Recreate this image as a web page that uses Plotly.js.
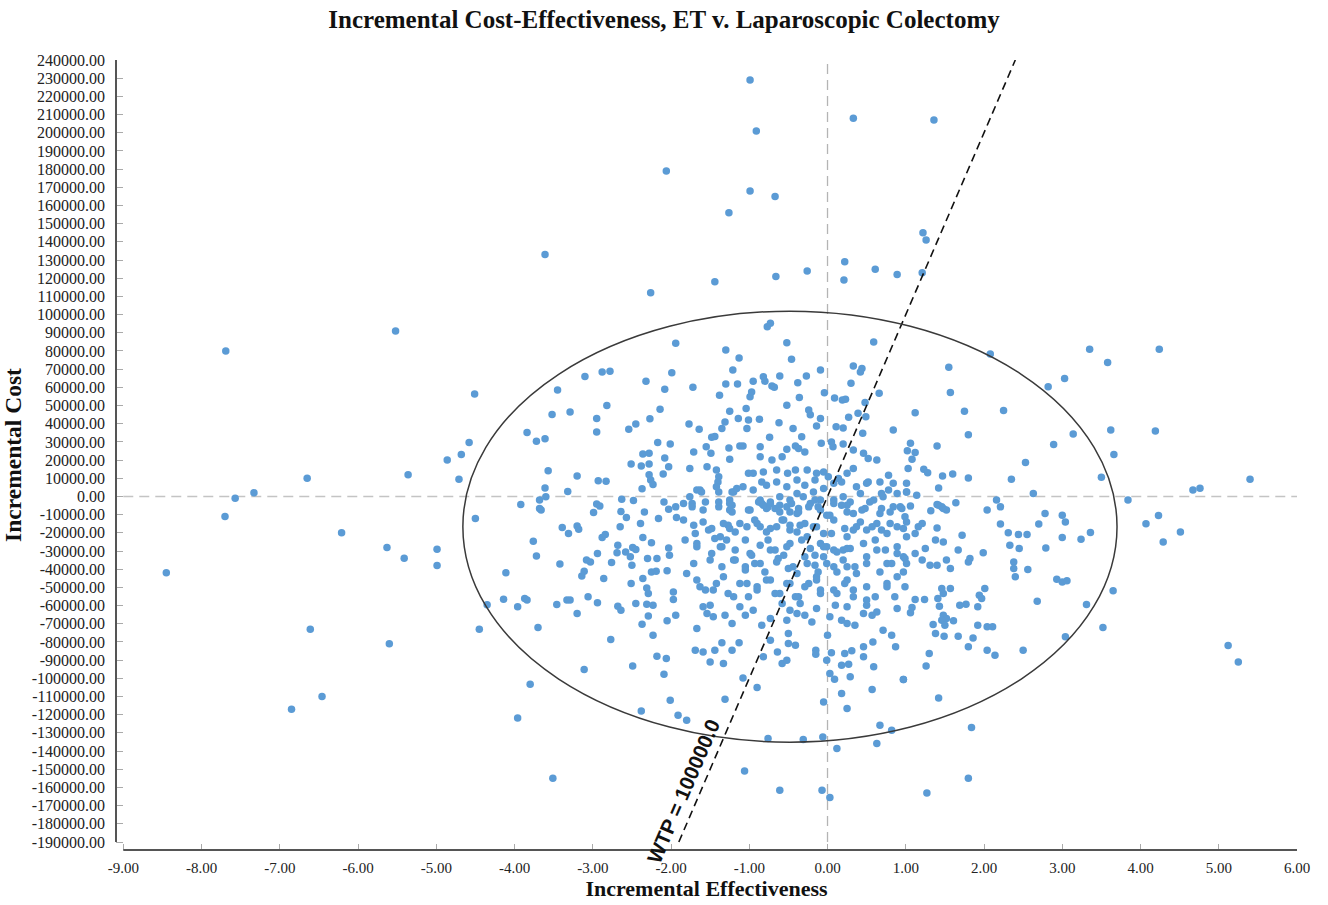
<!DOCTYPE html>
<html>
<head>
<meta charset="utf-8">
<script src="https://cdn.plot.ly/plotly-3.0.1.min.js"></script>
<style>html,body{margin:0;padding:0;background:#fff;}</style>
</head>
<body>
<div id="chart" style="width:1328px;height:905px;"></div>
<script>
// ---------- DATA (incremental effectiveness, incremental cost) ----------
const outlierPoints = [
  [-0.99,229000],[-0.91,201000],[0.33,208000],[1.36,207000],[-2.06,179000],[-0.99,168000],
  [-0.67,165000],[-1.26,156000],[1.22,145000],[1.26,141000],[-3.61,133000],[0.22,129000],
  [0.61,125000],[-0.26,124000],[-0.66,121000],[0.89,122000],[1.21,123000],[0.21,119000],
  [-1.44,118000],[-2.26,112000],[-7.69,80000],[-5.52,91000],[4.24,81000],[4.19,36000],
  [4.67,3500],[4.76,4500],[5.40,9500],[3.84,-2000],[4.07,-15000],[4.23,-10500],[4.29,-25000],
  [4.51,-19500],[5.12,-82000],[5.25,-91000],[1.80,-155000],[1.27,-163000],[-1.06,-151000],
  [-0.61,-161500],[-0.07,-161500],[0.03,-165500],[-3.51,-155000],[-8.45,-42000],[-7.70,-11000],
  [-7.57,-1000],[-7.33,2000],[-6.65,10000],[-6.21,-20000],[-5.63,-28000],[-5.41,-34000],
  [-5.36,12000],[-4.99,-29000],[-4.99,-38000],[-5.60,-81000],[-6.61,-73000],[-6.46,-110000],
  [-6.85,-117000],[-4.86,20000],[-4.71,9500]
];
const upperLeftPoints = [
  [-4.51,56300],[-3.10,66000],[-2.88,68400],[-2.78,68900],[-3.45,58500],[-2.82,50000],[-3.29,46400],
  [-3.52,45100],[-2.95,42900],[-2.95,35500],[-2.54,36900],[-2.45,39800],[-2.32,63300],[-2.08,58900],
  [-1.99,68000],[-1.94,84300],[-2.14,47900],[-2.27,42700],[-3.84,35200],[-3.72,30300],[-3.61,31700],
  [-4.58,29700],[-4.68,23100],[-2.17,29700],[-2.01,28900],[-2.36,23300],[-2.28,23800],[-2.08,21100],
  [-2.03,16300],[-2.10,12400],[-2.51,17800],[-2.38,16800],[-2.28,17900],[-2.28,11900],[-2.26,9000],
  [-2.23,6600],[-2.37,4200],[-3.57,14100],[-3.20,11200],[-2.93,8600],[-2.83,8400],[-3.61,4700],
  [-3.60,-200],[-3.32,2700],[-3.68,-2000],[-3.92,-4400],[-3.68,-6600],[-3.66,-7500],[-2.95,-4200],
  [-2.91,-5300],[-2.99,-8800],[-2.63,-1500],[-2.48,-2200],[-2.64,-8300],[-2.34,-8500],[-2.09,-3100],
  [-2.03,-7000],[-1.94,-5700],[-4.50,-12100],[-2.16,-12100],[-2.57,-11600]
];
const upperCenterPoints = [
  [-0.77,93300],[-0.73,95200],[-0.52,84500],[-1.30,80500],[-1.13,76100],[-0.46,75400],[-1.21,69500],
  [-0.95,63300],[-0.82,65800],[-0.80,63400],[-0.71,60700],[-0.68,60000],[-0.61,66200],[-0.38,62500],
  [-0.27,66200],[-0.09,69500],[-1.72,60100],[-1.38,55700],[-1.30,61800],[-1.15,61900],[-0.99,54800],
  [-0.97,57500],[-0.36,54400],[-0.52,50200],[-0.04,57000],[0.09,54200],[0.19,53000],[0.23,53500],
  [0.33,71800],[0.44,70400],[0.42,68500],[0.30,62200],[0.59,85000],[0.66,56700],[0.48,51700],
  [-1.25,46900],[-1.04,48400],[-1.77,39800],[-1.64,37000],[-1.48,32500],[-1.44,33000],[-1.35,37400],
  [-1.31,41000],[-1.14,42900],[-1.03,37400],[-1.01,42000],[-0.87,42500],[-0.62,40500],[-0.44,37400],
  [-0.24,47500],[-0.22,44900],[-0.09,42900],[-0.14,38700],[0.11,38300],[0.20,37700],[0.27,43500],
  [0.39,45700],[0.49,43800],[0.45,34700],[-1.71,24500],[-1.55,27300],[-1.49,23700],[-1.25,20400],
  [-1.26,26700],[-1.12,27800],[-1.08,27800],[-0.86,27300],[-0.74,32500],[-0.86,21800],[-0.71,20000],
  [-0.58,21800],[-0.52,25900],[-0.41,27800],[-0.37,26400],[-0.33,32800],[-0.29,24500],[-0.08,29200],
  [0.05,30000],[0.07,27300],[0.20,28800],[0.33,25500],[0.46,23700],[0.52,20900],[0.63,20000],
  [0.84,36500],[0.78,11700],[-1.76,15400],[-1.54,16300],[-1.42,14500],[-1.39,10800],[-1.40,8000],
  [-1.01,12700],[-0.95,12700],[-0.82,13500],[-0.65,14500],[-0.51,12700],[-0.41,14500],[-0.26,14500],
  [-0.14,12700],[-0.05,13500],[0.01,10800],[0.14,9900],[0.25,12700],[0.33,15400],[0.52,8000],
  [0.67,8000],[0.84,7200],[-1.63,3500],[-1.76,-200],[-1.39,2500],[-1.20,2500],[-1.08,5300],
  [-0.86,-2000],[-0.73,-3000],[-0.61,-200],[-0.48,-2000],[-0.39,1600],[-0.31,-200],[-0.18,2500],
  [-0.09,-2000],[0.08,-2000],[0.20,-200],[0.29,-3000],[0.42,1600],[0.59,-2000],[0.71,-200],
  [0.84,-5700],[-1.25,-7500],[-0.99,-7500],[-0.78,-6600],[-0.39,-9400],[-1.25,-2000],[-0.01,-10300],
  [0.33,-9400],[0.67,-9400]
];
const upperRightPoints = [
  [2.08,78300],[3.35,81000],[3.58,73700],[1.55,71000],[1.57,57200],[2.82,60300],[3.03,64900],
  [1.12,46000],[1.75,46900],[2.25,47300],[1.80,33900],[3.14,34400],[3.62,36500],[2.89,28600],
  [3.66,23100],[1.40,27800],[1.06,29200],[1.02,25100],[1.12,24200],[1.08,20500],[1.03,15400],
  [1.23,15000],[1.28,13000],[1.47,11300],[1.60,12300],[1.80,10200],[2.53,18700],[2.35,9500],
  [3.50,10600],[1.01,7200],[1.42,4700],[1.01,2500],[1.14,700],[2.63,1600],[1.64,-3500],
  [1.40,-4400],[1.46,-5700],[1.52,-7500],[2.16,-2000],[2.21,-5700],[2.04,-7500],[1.32,-7900],
  [1.06,-5300],[0.95,-6600],[2.78,-9400],[3.00,-10300]
];
const lowerLeftPoints = [
  [-3.39,-17100],[-3.31,-20400],[-3.20,-16300],[-3.18,-18000],[-3.76,-24600],[-3.72,-32800],
  [-4.11,-42000],[-4.14,-56500],[-4.35,-59600],[-4.45,-73000],[-3.96,-60700],[-3.87,-56100],
  [-3.84,-57000],[-3.70,-72000],[-3.42,-37200],[-3.46,-59400],[-3.33,-57000],[-3.29,-57000],
  [-3.20,-64400],[-3.06,-55200],[-2.94,-58500],[-3.14,-43800],[-3.11,-41100],[-3.08,-35000],
  [-3.03,-36000],[-2.94,-31400],[-2.86,-45100],[-2.88,-22600],[-2.84,-20900],[-2.68,-26800],
  [-2.69,-31000],[-2.65,-16700],[-2.76,-36300],[-2.58,-30500],[-2.52,-33200],[-2.49,-28000],
  [-2.45,-29200],[-2.50,-37800],[-2.51,-47900],[-2.36,-45100],[-2.36,-22600],[-2.39,-14900],
  [-2.25,-25500],[-2.30,-34100],[-2.18,-34100],[-2.25,-41500],[-2.19,-41100],[-2.31,-50300],
  [-2.29,-53400],[-2.03,-28300],[-2.02,-32300],[-2.05,-40900],[-1.97,-52500],[-1.97,-56700],
  [-2.45,-58900],[-2.31,-59200],[-2.23,-59800],[-2.68,-60300],[-2.64,-62500],[-2.37,-70200],
  [-2.29,-65700],[-2.05,-68400],[-1.94,-65300],[-2.23,-76300],[-2.77,-78700],[-2.18,-87800],
  [-2.06,-89100],[-2.09,-97700],[-2.49,-93200],[-3.11,-95200],[-3.80,-103200],[-3.96,-121800],
  [-2.01,-112000],[-2.38,-117900],[-1.91,-120300],[-1.93,-11600]
];
const lowerCenterPoints = [
  [-1.84,-3900],[-1.73,-3900],[-1.59,-7500],[-1.39,-5700],[-1.22,-4800],[-0.84,-3900],[-0.76,-5700],
  [-0.61,-4800],[-0.48,-8500],[-0.37,-6600],[-0.22,-3900],[-0.12,-5700],[0.08,-3900],[0.25,-4800],
  [0.48,-6600],[-1.84,-13000],[-1.71,-15800],[-1.52,-18500],[-1.37,-22200],[-1.27,-15800],
  [-1.18,-19500],[-1.03,-16700],[-0.90,-14900],[-0.78,-19500],[-0.65,-16700],[-0.56,-13000],
  [-0.48,-18500],[-0.35,-15800],[-0.26,-22200],[-0.18,-16700],[-0.09,-25900],[-0.01,-27700],
  [0.05,-20400],[0.12,-30500],[0.20,-29500],[0.29,-28600],[0.25,-22200],[0.37,-16700],[0.50,-18500],
  [0.63,-14900],[0.76,-20400],[0.89,-16700],[-1.82,-24000],[-1.67,-27700],[-1.48,-31400],
  [-1.35,-27700],[-1.18,-35000],[-1.05,-38700],[-0.97,-32300],[-0.86,-36900],[-0.73,-29500],
  [-0.63,-34100],[-0.52,-27700],[-0.44,-38700],[-0.29,-33200],[-0.16,-37800],[-0.05,-33200],
  [0.08,-38700],[0.20,-35000],[0.35,-38700],[0.50,-33200],[0.63,-29500],[0.76,-36900],[0.89,-31400],
  [-1.80,-42400],[-1.63,-49700],[-1.46,-51500],[-1.33,-44200],[-1.20,-55200],[-1.03,-47900],
  [-0.90,-51500],[-0.78,-46000],[-0.61,-53400],[-0.48,-47900],[-0.37,-55200],[-0.24,-47900],
  [-0.14,-44200],[-0.09,-51500],[0.12,-53400],[0.25,-46000],[0.33,-51500],[0.50,-57000],
  [0.76,-47900],[0.89,-44200],[0.25,-116600],[-0.05,-113000],[-1.80,-123000],[0.67,-125800],
  [0.82,-128500],[-0.76,-133100],[-0.31,-133700],[-0.06,-132200],[0.12,-138600],[0.63,-135900]
];
const centerDensePoints = [
  [-1.67,3500],[-1.61,2500],[-1.42,5300],[-1.22,2500],[-1.16,4400],[-0.95,3500],[-0.84,8000],
  [-0.78,6200],[-0.65,8000],[-0.52,5300],[-0.39,9000],[-0.29,6200],[-0.16,9000],[-0.05,4400],
  [0.08,7200],[0.18,8000],[0.37,5300],[0.50,7200],[0.69,1600],[0.78,3500],[0.89,1600],[1.01,2500],
  [-1.73,-5700],[-1.56,-3000],[-1.39,-3000],[-1.25,-3900],[-1.22,-8500],[-1.01,-7500],[-0.88,-3000],
  [-0.82,-4800],[-0.73,-3900],[-0.67,-6600],[-0.61,-8500],[-0.52,-5700],[-0.46,-3900],[-0.37,-8500],
  [-0.24,-5700],[-0.16,-2000],[-0.09,-7500],[0.03,-10300],[0.18,-4800],[0.25,-8500],[0.44,-7500],
  [0.54,-3000],[0.69,-6600],[0.80,-8500],[0.93,-5700],
  [-1.59,-14000],[-1.48,-17600],[-1.33,-14900],[-1.25,-17600],[-1.12,-14900],[-0.93,-13000],
  [-0.86,-16700],[-0.73,-17600],[-0.58,-13000],[-0.48,-15800],[-0.39,-19500],[-0.29,-14900],
  [-0.14,-16700],[-0.05,-20400],[0.08,-13000],[0.22,-17600],[0.33,-18500],[0.42,-14000],
  [0.57,-16700],[0.69,-18500],[0.80,-14900],[0.97,-17600],[-1.69,-20400],
  [-1.67,-25900],[-1.44,-23100],[-1.37,-27700],[-1.29,-24000],[-1.18,-29500],[-1.05,-24000],
  [-0.99,-31400],[-0.86,-26800],[-0.76,-24000],[-0.67,-29500],[-0.56,-32300],[-0.48,-25900],
  [-0.33,-24000],[-0.22,-28600],[-0.16,-32300],[-0.05,-27700],[0.08,-29500],[0.25,-28600],
  [0.46,-25900],[0.61,-24000],[0.74,-29500],[0.89,-27700],[0.97,-33200],
  [-1.71,-36900],[-1.50,-35000],[-1.35,-38700],[-1.20,-35000],[-1.05,-40500],[-0.93,-36900],
  [-0.80,-41500],[-0.65,-36000],[-0.50,-39600],[-0.39,-42400],[-0.26,-36900],[-0.12,-41500],
  [-0.01,-36900],[0.12,-41500],[0.25,-38700],[0.37,-42400],[0.50,-36900],[0.67,-41500],
  [0.82,-36900],[0.97,-41500],
  [-1.67,-46000],[-1.56,-51500],[-1.42,-47900],[-1.27,-53400],[-1.12,-47900],[-1.01,-55200],
  [-0.90,-49700],[-0.73,-46000],[-0.67,-53400],[-0.52,-47900],[-0.41,-55200],[-0.29,-49700],
  [-0.14,-46000],[-0.09,-53400],[0.08,-51500],[0.22,-47900],[0.33,-55200],[0.50,-49700],
  [0.61,-55200],[0.76,-49700],[0.86,-55200],[0.99,-49700],[-1.50,-59800],[-1.12,-60700],
  [-0.35,-58900],[0.25,-60700],[0.50,-59800]
];
const centerLowerPoints = [
  [-1.59,-60700],[-1.54,-64400],[-1.67,-72600],[-1.46,-66200],[-1.31,-65300],[-1.22,-69900],
  [-1.05,-65300],[-0.95,-62500],[-0.84,-70800],[-0.73,-67100],[-0.58,-58900],[-0.48,-62500],
  [-0.39,-64400],[-0.29,-65300],[-0.20,-69000],[-0.14,-61600],[-0.52,-68000],[0.10,-59800],
  [0.03,-66200],[0.18,-68000],[0.25,-69900],[0.35,-70800],[0.46,-64400],[0.57,-65300],
  [0.63,-63500],[0.71,-73500],[0.89,-61600],[0.82,-76300],[-1.69,-84500],[-1.59,-85500],
  [-1.44,-84500],[-1.35,-80500],[-1.50,-91000],[-1.33,-91900],[-1.22,-84500],[-1.13,-80500],
  [-0.82,-88200],[-0.73,-79000],[-0.64,-85500],[-0.58,-91900],[-0.52,-90000],[-0.50,-80900],
  [-0.41,-81800],[-0.50,-75300],[-0.15,-84500],[-0.15,-86700],[-0.01,-90000],[0.05,-86000],
  [0.00,-76300],[0.22,-86400],[0.31,-84900],[0.18,-92800],[0.27,-92200],[0.46,-82700],
  [0.58,-80000],[0.46,-88200],[0.59,-93700],[0.87,-82700],[0.97,-100700],[0.29,-99200],
  [0.09,-100500],[0.03,-97400],[0.18,-108400],[0.57,-106200],[-1.08,-99800],[-0.90,-105000],
  [-1.31,-111500]
];
const lowerRightPoints = [
  [1.42,-4800],[1.48,-6600],[0.99,-11200],[1.01,-14000],[1.16,-16700],[1.21,-14900],[1.40,-17300],
  [1.72,-21300],[1.38,-24000],[1.48,-25000],[1.12,-20400],[1.01,-22200],[1.25,-28600],[1.12,-31400],
  [0.99,-34100],[1.01,-36900],[1.21,-35000],[1.31,-37800],[1.40,-37800],[1.52,-35000],[1.57,-39600],
  [1.67,-29500],[1.82,-34100],[1.80,-36000],[1.99,-31000],[2.21,-15200],[2.31,-20000],[2.44,-20900],
  [2.55,-20900],[2.33,-26800],[2.45,-28600],[2.38,-36000],[2.38,-39600],[2.40,-44200],[2.56,-40200],
  [2.70,-15200],[3.04,-14000],[3.00,-22600],[2.79,-28300],[3.24,-23500],[3.36,-19800],[2.93,-45500],
  [3.00,-47000],[3.06,-46400],[3.65,-51900],[3.31,-59400],[3.52,-72000],[3.04,-77200],[2.68,-57600],
  [2.50,-84500],[2.14,-87300],[2.04,-84500],[2.01,-50600],[1.94,-54300],[1.97,-56100],[1.92,-60700],
  [1.77,-59200],[1.69,-59800],[1.43,-60300],[1.48,-53400],[1.46,-50600],[1.57,-50600],[1.41,-56100],
  [1.24,-56700],[1.12,-56700],[1.08,-61100],[1.06,-64000],[1.48,-65300],[1.52,-67100],[1.61,-68400],
  [1.46,-68000],[1.35,-70400],[1.50,-70800],[1.38,-75300],[1.49,-76800],[1.67,-76800],[1.86,-77800],
  [1.92,-70800],[1.80,-82700],[2.04,-71700],[2.11,-71700],[1.30,-86400],[1.26,-93200],[0.97,-100700],
  [1.42,-110800],[1.84,-127100]
];

// Willingness-to-pay threshold line and confidence ellipse
const wtpValue = 100000;
const wtpEffectivenessRange = [-1.9, 2.4];
const ellipseCenter = [-0.48, -16600];   // [effectiveness, cost]
const ellipseRadius = [4.18, 118500];    // [effectiveness, cost]

// Axis ticks
const xTickVals = [-9,-8,-7,-6,-5,-4,-3,-2,-1,0,1,2,3,4,5,6];
const yTickVals = [240000,230000,220000,210000,200000,190000,180000,170000,160000,150000,140000,
  130000,120000,110000,100000,90000,80000,70000,60000,50000,40000,30000,20000,10000,0,
  -10000,-20000,-30000,-40000,-50000,-60000,-70000,-80000,-90000,-100000,-110000,-120000,
  -130000,-140000,-150000,-160000,-170000,-180000,-190000];
const xTickText = xTickVals.map(v => v.toFixed(2));
const yTickText = yTickVals.map(v => v.toFixed(2));

// ---------- CHART ----------
const allPoints = [].concat(outlierPoints, upperLeftPoints, upperCenterPoints, upperRightPoints,
  lowerLeftPoints, lowerCenterPoints, centerDensePoints, centerLowerPoints, lowerRightPoints);

const serif = 'Liberation Serif, Times New Roman, serif';

const traces = [
  {
    type: 'scatter', mode: 'markers',
    x: allPoints.map(p => p[0]), y: allPoints.map(p => p[1]),
    marker: {color: '#5B9BD5', size: 7.5, line: {width: 0}},
    hoverinfo: 'skip'
  },
  {
    type: 'scatter', mode: 'lines',
    x: wtpEffectivenessRange, y: wtpEffectivenessRange.map(v => v * wtpValue),
    line: {color: '#111', width: 1.6, dash: '8px,5px'},
    hoverinfo: 'skip'
  }
];

const layout = {
  width: 1328, height: 905,
  margin: {l: 116, r: 31.3, t: 60, b: 55.3},
  paper_bgcolor: '#fff', plot_bgcolor: '#fff',
  showlegend: false,
  hovermode: false,
  title: {
    text: 'Incremental Cost-Effectiveness, ET v. Laparoscopic Colectomy',
    font: {family: serif, size: 25, color: '#111', weight: 'bold'},
    x: 0.5, xref: 'container', xanchor: 'center',
    y: 1 - 19/905, yref: 'container', yanchor: 'middle'
  },
  xaxis: {
    range: [-9.093, 6], tickvals: xTickVals, ticktext: xTickText,
    ticks: 'inside', ticklen: 6, tickwidth: 1, tickcolor: '#aaa',
    showgrid: false, zeroline: false, showline: false,
    tickfont: {family: serif, size: 15, color: '#222'},
    ticklabelstandoff: 7,
    title: {text: 'Incremental Effectiveness', font: {family: serif, size: 22, color: '#111', weight: 'bold'}, standoff: 2}
  },
  yaxis: {
    range: [-194400, 240000], tickvals: yTickVals, ticktext: yTickText,
    ticks: 'inside', ticklen: 7, tickwidth: 1, tickcolor: '#aaa',
    showgrid: false, zeroline: false, showline: false,
    tickfont: {family: serif, size: 16, color: '#222'},
    ticklabelstandoff: 10,
    title: {text: 'Incremental Cost', font: {family: serif, size: 23.5, color: '#111', weight: 'bold'}, standoff: 4}
  },
  shapes: [
    // zero reference lines
    {type: 'line', layer: 'below', xref: 'x', yref: 'y', x0: -9, x1: 6, y0: 0, y1: 0,
     line: {color: '#c4c4c4', width: 1.5, dash: '10px,6px'}},
    {type: 'line', layer: 'below', xref: 'x', yref: 'y', x0: 0, x1: 0, y0: -190000, y1: 240000,
     line: {color: '#b4b4b4', width: 1.3, dash: '10px,6px'}},
    // confidence ellipse
    {type: 'circle', layer: 'above', xref: 'x', yref: 'y',
     x0: ellipseCenter[0] - ellipseRadius[0], x1: ellipseCenter[0] + ellipseRadius[0],
     y0: ellipseCenter[1] - ellipseRadius[1], y1: ellipseCenter[1] + ellipseRadius[1],
     line: {color: '#3a3a3a', width: 1.5}},
    // axis lines
    {type: 'line', layer: 'above', xref: 'paper', yref: 'y', x0: 0, x1: 0, y0: -190000, y1: 240000,
     line: {color: '#555', width: 2}},
    {type: 'line', layer: 'above', xref: 'x', yref: 'paper', x0: -9, x1: 6, y0: 0, y1: 0,
     line: {color: '#555', width: 2.2}}
  ],
  annotations: [
    {xref: 'x', yref: 'y', x: -1.85, y: -162000, text: 'WTP = ' + wtpValue.toFixed(1),
     textangle: -66.7, showarrow: false,
     font: {family: 'Liberation Sans, Arial, sans-serif', size: 20.5, color: '#111', weight: 'bold'}}
  ]
};

Plotly.newPlot('chart', traces, layout, {staticPlot: true, displayModeBar: false});
</script>
</body>
</html>
